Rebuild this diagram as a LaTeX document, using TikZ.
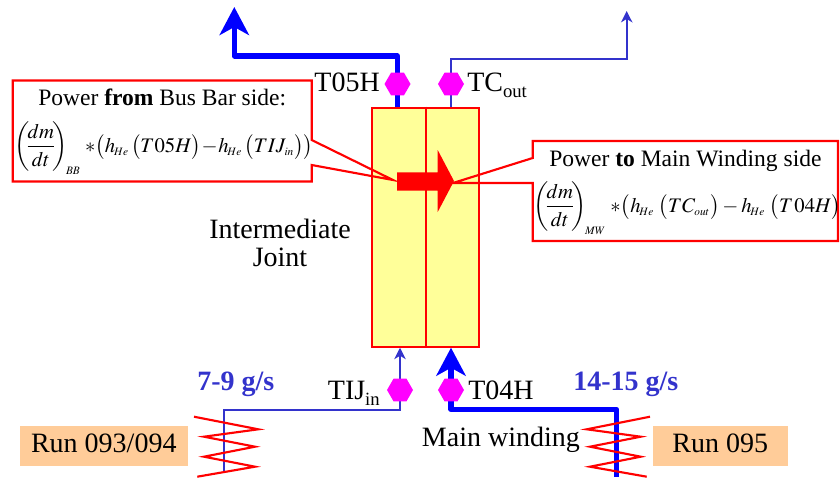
\documentclass[tikz,border=0pt]{standalone}
\usepackage{mathptmx}
\usepackage[no-math]{fontspec}
\setmainfont{Liberation Serif}
\usetikzlibrary{arrows.meta, backgrounds, calc, positioning, shapes.geometric}

\DeclareMathSizes{15.5}{15.5}{8.5}{6}

\definecolor{pipeblue}{RGB}{0,0,255}
\definecolor{thinblue}{RGB}{51,51,204}
\definecolor{jointyellow}{RGB}{255,255,153}
\definecolor{runorange}{RGB}{255,204,153}
\definecolor{sensorpink}{RGB}{255,0,255}

\newcommand{\lowtext}[1]{\raisebox{-4.5pt}{\fontsize{14}{14}\selectfont #1}}
\newcommand{\rowparen}[1]{{\left(\rule[-5.8pt]{0pt}{19pt}#1\right)}}
\newcommand{\dmdt}{{\left(\rule[-16.3pt]{0pt}{40pt}\mkern-3mu\frac{dm}{dt}\mkern-3mu\right)}}

\tikzset{
  hotpipe/.style={draw=pipeblue, line width=3.9pt, line join=round, -{Stealth[length=21pt, width=22pt, inset=6pt]}},
  coldpipe/.style={draw=thinblue, line width=1.6pt, -{Stealth[length=8.5pt, width=8.5pt, inset=2.5pt]}},
  sensor/.style={regular polygon, regular polygon sides=6, fill=sensorpink, inner sep=0pt, minimum size=19.5pt},
  redline/.style={draw=red, line width=1.6pt, line join=miter},
  runbox/.style={fill=runorange, inner sep=0pt, minimum height=29.7pt, text height=14pt, text depth=3.5pt, font=\fontsize{21}{25}\selectfont},
  lbl/.style={inner sep=0pt, font=\fontsize{21}{25}\selectfont},
  flowlbl/.style={lbl, text=thinblue, font=\fontsize{21}{25}\selectfont\bfseries},
  boxtitle/.style={inner sep=0pt, anchor=base west, font=\fontsize{17.65}{21}\selectfont},
  formula/.style={inner sep=0pt, anchor=base west, font=\fontsize{15.5}{18}\selectfont}
}

\begin{document}
\begin{tikzpicture}[x=0.75pt, y=-0.75pt]
\useasboundingbox (0,0) rectangle (840,479);

% block
\node[draw=red, line width=1.6pt, fill=jointyellow, minimum width=80.7pt, minimum height=179.2pt, inner sep=0pt] (joint) at (425.5,227.2) {};
\draw[redline] (joint.north -| 425.7,0) -- (joint.south -| 425.7,0);

% sensors
\node[sensor] (t05h) at (397.5,84) {};
\node[sensor] (tcout) at (451,84) {};
\node[sensor] (tijin) at (400,390) {};
\node[sensor] (t04h) at (451,390) {};

\node[lbl, anchor=base east] (t05hlbl) at (380,91.5) {T05H};
\node[lbl, anchor=base west] (tcoutlbl) at (467,91.5) {TC\lowtext{out}};
\node[lbl, anchor=base east] (tijinlbl) at (380,399) {TIJ\lowtext{in}};
\node[lbl, anchor=base west] (t04hlbl) at (468,399) {T04H};

% pipes
\coordinate (busbend) at (234.3,56);
\coordinate (bustip) at (234.3,7);
\coordinate (coutbend) at (626.7,59);
\coordinate (couttip) at (626.7,11);
\coordinate (runaend) at (224,472);
\coordinate (runabend) at (224,410);
\coordinate (runbend) at (616.7,476.7);
\coordinate (runbbend) at (616.7,409.3);

\begin{pgfonlayer}{background}
\draw[hotpipe] (joint.north -| t05h) -- (t05h |- busbend) -- (busbend) -- (bustip);
\draw[coldpipe] (joint.north -| tcout) -- (tcout |- coutbend) -- (coutbend) -- (couttip);
\draw[coldpipe] (runaend) -- (runabend) -- (tijin |- runabend) -- (tijin |- joint.south);
\draw[hotpipe] (runbend) -- (runbbend) -- (t04h |- runbbend) -- (t04h |- joint.south);
\end{pgfonlayer}

% flow arrow
\fill[red] (397,172.3) -- (437.7,172.3) -- (437.7,150) -- (454,181) -- (437.7,212) -- (437.7,190.7) -- (397,190.7) -- cycle;

% callouts
\draw[redline] (12.7,80.5) -- (311.7,80.5) -- (311.7,140) -- (393,180) -- (311.7,165) -- (311.7,181.5) -- (12.7,181.5) -- cycle;
\draw[redline] (532.7,141) -- (838,141) -- (838,241) -- (532.7,241) -- (532.7,183) -- (453,183) -- (532.7,158) -- cycle;

\node[boxtitle] (fromtitle) at (38,105) {Power \textbf{from} Bus Bar side:};
\node[formula] (fromeq) at (14,152) {$\displaystyle\dmdt_{\!BB}\mkern4mu{*}\rowparen{h_{\!He}\mkern2mu\rowparen{T05H}\mkern-2mu-\mkern-2mu h_{\!He}\mkern2mu\rowparen{TIJ_{in}}}$};
\node[boxtitle] (totitle) at (549,166) {Power \textbf{to} Main Winding side};
\node[formula] (toeq) at (533,212) {$\displaystyle\dmdt_{\!MW}\mkern4mu{*}\rowparen{h_{\!He}\mkern4mu\rowparen{TC_{out}}-h_{\!He}\mkern4mu\rowparen{T\mkern1mu04H}}$};

\node[lbl, align=center, font=\fontsize{21}{21.5}\selectfont] (jointlbl) at (280,243) {Intermediate\\Joint};

% heaters
\draw[redline] (194,416.7) -- (258.3,429.3) -- (204,436.7) -- (255,446.7) -- (204,456.7) -- (255,466.7) -- (197.3,476.7);
\draw[redline] (650,416.7) -- (586.7,429.3) -- (640.7,436.7) -- (590,446.7) -- (640.7,456.7) -- (590,466.7) -- (646.7,476.7);

\node[runbox, minimum width=125.8pt] (runa) at (103.8,445.8) {Run 093/094};
\node[runbox, minimum width=101.2pt] (runb) at (720.2,445.8) {Run 095};

\node[flowlbl, anchor=base west] (flowa) at (197,390) {7-9 g/s};
\node[flowlbl, anchor=base west] (flowb) at (573,390) {14-15 g/s};
\node[lbl, anchor=base west] (mainlbl) at (421.7,446) {Main winding};
\end{tikzpicture}
\end{document}
